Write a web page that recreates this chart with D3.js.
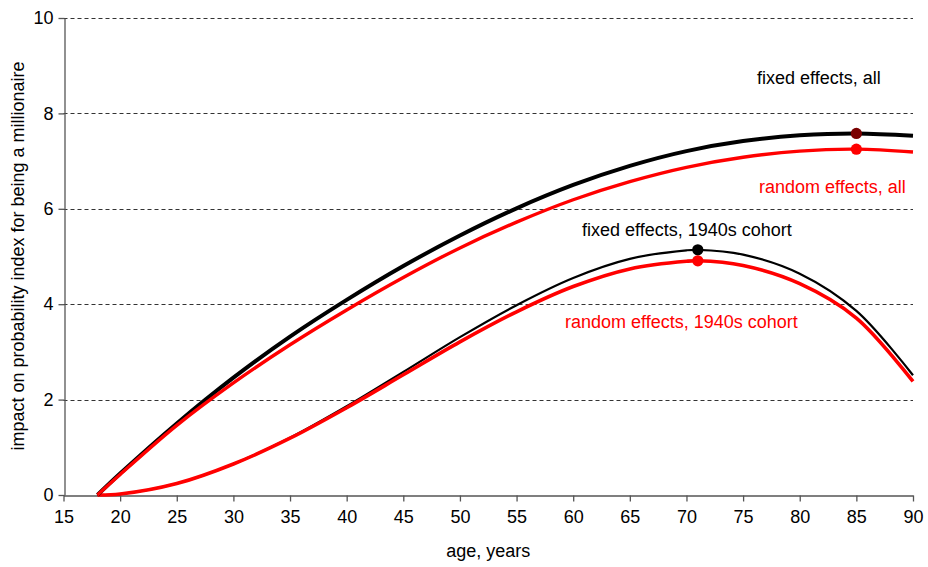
<!DOCTYPE html>
<html>
<head>
<meta charset="utf-8">
<script src="https://cdn.jsdelivr.net/npm/d3@7"></script>
<style>
  html, body { margin: 0; padding: 0; background: #fff; }
  svg { display: block; font-family: Arial, "Liberation Sans", sans-serif; }
</style>
</head>
<body>
<svg id="chart" width="928" height="567"></svg>
<script>
// Age grids for the two model families
const agesAll = [18, 20, 25, 30, 35, 40, 45, 50, 55, 60, 65, 70, 75, 80, 85, 90];
const agesCohort = [18, 20, 25, 30, 35, 40, 45, 50, 55, 60, 65, 70, 71, 75, 80, 85, 90];

// Impact on probability index, by age
const fixedAll = [0, 0.45, 1.50, 2.46, 3.32, 4.09, 4.80, 5.44, 6.01, 6.50, 6.90, 7.21, 7.42, 7.54, 7.58, 7.53];
const randomAll = [0, 0.43, 1.46, 2.35, 3.15, 3.88, 4.56, 5.18, 5.72, 6.19, 6.57, 6.87, 7.08, 7.21, 7.25, 7.19];
const fixedCohort = [0, 0.02, 0.24, 0.65, 1.20, 1.86, 2.58, 3.31, 3.98, 4.55, 4.95, 5.13, 5.14, 5.04, 4.64, 3.86, 2.51];
const randomCohort = [0, 0.02, 0.24, 0.65, 1.19, 1.83, 2.52, 3.21, 3.84, 4.37, 4.74, 4.90, 4.91, 4.81, 4.43, 3.71, 2.38];

// Peak markers
const peakAges = [85, 85, 71, 71];
const peakValues = [7.58, 7.25, 5.14, 4.91];

// Axis ticks
const xTicks = [15, 20, 25, 30, 35, 40, 45, 50, 55, 60, 65, 70, 75, 80, 85, 90];
const yTicks = [0, 2, 4, 6, 8, 10];

const svg = d3.select("#chart");
const x = d3.scaleLinear().domain([15, 90]).range([63.5, 913]);
const y = d3.scaleLinear().domain([0, 10]).range([495, 18]);

// Dashed horizontal gridlines
svg.append("g")
  .selectAll("line")
  .data(yTicks.filter(d => d > 0))
  .join("line")
  .attr("x1", x(15)).attr("x2", x(90))
  .attr("y1", d => Math.round(y(d)) + 0.5).attr("y2", d => Math.round(y(d)) + 0.5)
  .attr("stroke", "#333")
  .attr("stroke-width", 1)
  .attr("stroke-dasharray", "4,3");

// Axes
const xAxis = svg.append("g")
  .attr("transform", `translate(0,${Math.round(y(0)) + 0.5})`)
  .call(d3.axisBottom(x).tickValues(xTicks).tickSize(6).tickPadding(9).tickSizeOuter(0));
const yAxis = svg.append("g")
  .attr("transform", `translate(${Math.round(x(15)) + 0.5},0)`)
  .call(d3.axisLeft(y).tickValues(yTicks).tickSize(6).tickPadding(5).tickSizeOuter(0));

[xAxis, yAxis].forEach(g => {
  g.select(".domain").attr("stroke", "#555").attr("stroke-width", 1.3);
  g.selectAll(".tick line").attr("stroke", "#555").attr("stroke-width", 1.3);
  g.selectAll(".tick text")
    .attr("fill", "#000")
    .style("font-family", "Arial, 'Liberation Sans', sans-serif")
    .style("font-size", "18px");
});

// Axis titles
svg.append("text")
  .attr("x", (x(15) + x(90)) / 2).attr("y", 557)
  .attr("text-anchor", "middle")
  .style("font-size", "18px")
  .text("age, years");

svg.append("text")
  .attr("transform", "translate(24,256) rotate(-90)")
  .attr("text-anchor", "middle")
  .style("font-size", "18px")
  .text("impact on probability index for being a millionaire");

// Curves
const line = d3.line()
  .x(d => x(d[0]))
  .y(d => y(d[1]))
  .curve(d3.curveCatmullRom.alpha(0.5));

const series = [
  { ages: agesCohort, vals: fixedCohort, color: "#000", width: 2.2 },
  { ages: agesCohort, vals: randomCohort, color: "#ff0000", width: 3.6 },
  { ages: agesAll, vals: fixedAll, color: "#000", width: 4 },
  { ages: agesAll, vals: randomAll, color: "#ff0000", width: 3.4 }
];

svg.append("g")
  .selectAll("path")
  .data(series)
  .join("path")
  .attr("d", s => line(s.ages.map((a, i) => [a, s.vals[i]])))
  .attr("fill", "none")
  .attr("stroke", s => s.color)
  .attr("stroke-width", s => s.width)
  .attr("stroke-linejoin", "round");

// Peak markers
const dotColors = ["#7a0000", "#ff0000", "#000", "#ff0000"];
svg.append("g")
  .selectAll("circle")
  .data(peakAges.map((a, i) => [a, peakValues[i], dotColors[i]]))
  .join("circle")
  .attr("cx", d => x(d[0]))
  .attr("cy", d => y(d[1]))
  .attr("r", 5.6)
  .attr("fill", d => d[2]);

// Series labels
const labels = [
  { text: "fixed effects, all", x: 757, y: 84, color: "#000" },
  { text: "random effects, all", x: 759, y: 193, color: "#ff0000" },
  { text: "fixed effects, 1940s cohort", x: 582, y: 236, color: "#000" },
  { text: "random effects, 1940s cohort", x: 565, y: 328, color: "#ff0000" }
];
svg.append("g")
  .selectAll("text")
  .data(labels)
  .join("text")
  .attr("x", d => d.x)
  .attr("y", d => d.y)
  .attr("fill", d => d.color)
  .style("font-size", "18px")
  .text(d => d.text);
</script>
</body>
</html>
